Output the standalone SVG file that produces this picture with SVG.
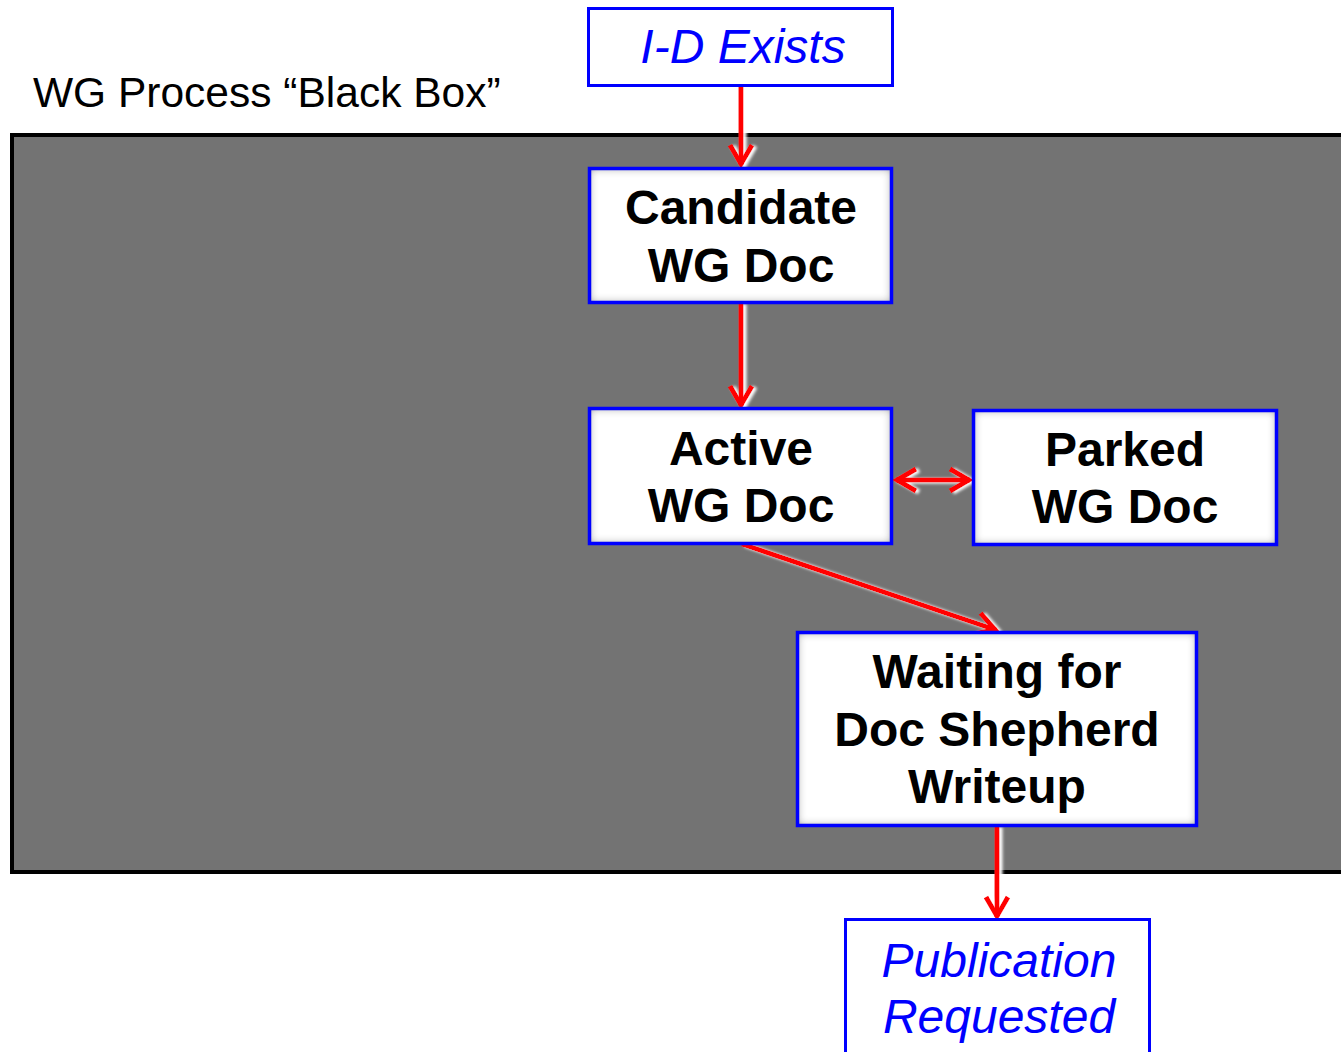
<svg xmlns="http://www.w3.org/2000/svg" width="1341" height="1052" viewBox="0 0 1341 1052">
<style>
.box{fill:#ffffff;stroke:#0000ff;stroke-width:3}
.inbox{fill:#ffffff;filter:url(#inner)}
.edge{fill:none;stroke:#0000ff;stroke-width:3.5}
.lbl{font-family:"Liberation Sans",Arial,sans-serif;font-weight:bold;font-size:48px;fill:#000;text-anchor:middle}
.ext{font-family:"Liberation Sans",Arial,sans-serif;font-style:italic;font-size:48px;fill:#0000ff;text-anchor:middle}
.title{font-family:"Liberation Sans",Arial,sans-serif;font-size:42.5px;fill:#000}
.conn{fill:none;stroke:#ff0000;stroke-width:5}
</style>
<defs>
<filter id="inner" x="-5%" y="-5%" width="110%" height="110%">
<feFlood flood-color="#5a5a5a"/>
<feComposite in2="SourceAlpha" operator="out"/>
<feGaussianBlur stdDeviation="5"/>
<feComposite in2="SourceAlpha" operator="in" result="sh"/>
<feMerge><feMergeNode in="SourceGraphic"/><feMergeNode in="sh"/></feMerge>
</filter>
<filter id="glow" filterUnits="userSpaceOnUse" x="0" y="0" width="1341" height="1052">
<feGaussianBlur in="SourceAlpha" stdDeviation="1.5"/>
<feOffset dx="3" dy="1" result="b"/>
<feFlood flood-color="#ffffff"/>
<feComposite in2="b" operator="in" result="w"/>
<feMerge><feMergeNode in="w"/><feMergeNode in="SourceGraphic"/></feMerge>
</filter>
<marker id="arr" viewBox="0 0 28 28" refX="25" refY="14" markerWidth="28" markerHeight="28" markerUnits="userSpaceOnUse" orient="auto-start-reverse">
<path d="M5,3 L24,14 L5,25" fill="none" stroke="#ff0000" stroke-width="5"/>
</marker>
</defs>

<rect width="1341" height="1052" fill="#ffffff"/>
<text class="title" x="33" y="107">WG Process “Black Box”</text>
<rect id="blackbox" x="12" y="135" width="1345" height="737" fill="#737373" stroke="#000" stroke-width="4"/>

<g id="connectors" filter="url(#glow)">
<path class="conn" d="M741,86 L741,165" marker-end="url(#arr)"/>
<path class="conn" d="M741,303 L741,406" marker-end="url(#arr)"/>
<path class="conn" d="M896,480 L970,480" marker-start="url(#arr)" marker-end="url(#arr)"/>
<path class="conn" d="M742,544 L996,630" marker-end="url(#arr)"/>
<path class="conn" d="M997,826 L997,917" marker-end="url(#arr)"/>
</g>

<g id="id-exists">
<rect class="box" x="588.5" y="8.5" width="304" height="77"/>
<text class="ext" x="743" y="63">I-D Exists</text>
</g>

<g id="candidate">
<rect class="inbox" x="589" y="168" width="303" height="135"/>
<rect class="edge" x="589.5" y="168.5" width="302" height="134"/>
<text class="lbl" x="741" y="224">Candidate</text>
<text class="lbl" x="741" y="282">WG Doc</text>
</g>

<g id="active">
<rect class="inbox" x="589" y="408" width="303" height="136"/>
<rect class="edge" x="589.5" y="408.5" width="302" height="135"/>
<text class="lbl" x="741" y="465">Active</text>
<text class="lbl" x="741" y="522">WG Doc</text>
</g>

<g id="parked">
<rect class="inbox" x="973" y="410" width="304" height="135"/>
<rect class="edge" x="973.5" y="410.5" width="303" height="134"/>
<text class="lbl" x="1125" y="466">Parked</text>
<text class="lbl" x="1125" y="523">WG Doc</text>
</g>

<g id="waiting">
<rect class="inbox" x="797" y="632" width="400" height="194"/>
<rect class="edge" x="797.5" y="632.5" width="399" height="193"/>
<text class="lbl" x="997" y="688">Waiting for</text>
<text class="lbl" x="997" y="746">Doc Shepherd</text>
<text class="lbl" x="997" y="803">Writeup</text>
</g>

<g id="publication">
<rect class="box" x="845.5" y="919.5" width="304" height="140"/>
<text class="ext" x="999" y="977">Publication</text>
<text class="ext" x="999" y="1033">Requested</text>
</g>
</svg>
